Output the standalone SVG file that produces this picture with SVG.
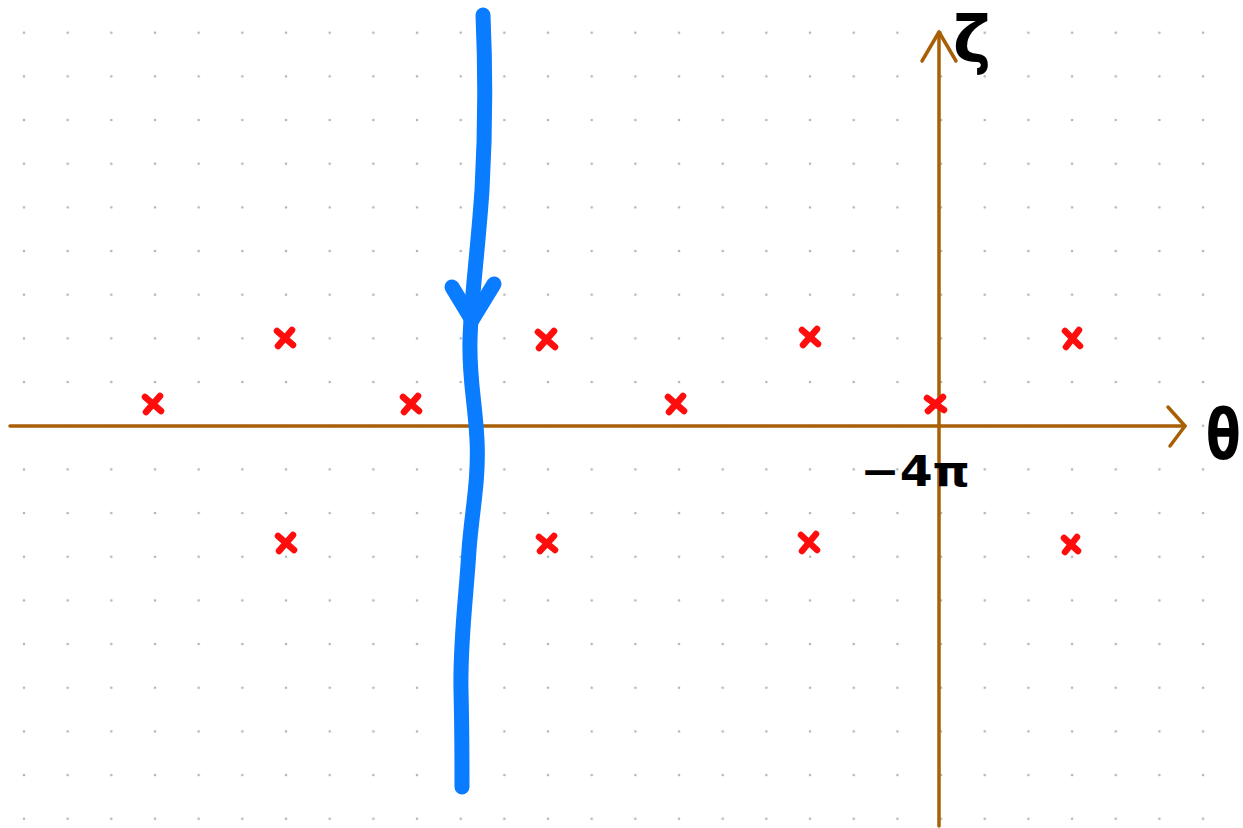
<svg xmlns="http://www.w3.org/2000/svg" width="1243" height="828" viewBox="0 0 1243 828">
<defs>
<pattern id="dots" x="24" y="32.7" width="43.67" height="43.67" patternUnits="userSpaceOnUse">
<circle cx="0" cy="0" r="1.3" fill="#b4b4b4"/>
<circle cx="43.67" cy="0" r="1.3" fill="#b4b4b4"/>
<circle cx="0" cy="43.67" r="1.3" fill="#b4b4b4"/>
<circle cx="43.67" cy="43.67" r="1.3" fill="#b4b4b4"/>
</pattern>
</defs>
<style>
.axis{stroke:#a95f06;stroke-width:3.5;fill:none;stroke-linecap:round;stroke-linejoin:round}
.x{stroke:#ff0d0d;stroke-width:6.5;stroke-linecap:round;fill:none}
.path{stroke:#0a7cff;stroke-width:15;stroke-linecap:round;stroke-linejoin:round;fill:none}
.lbl{font-family:"DejaVu Sans",sans-serif;font-weight:bold;fill:#000}
</style>
<rect width="1243" height="828" fill="#fff"/>
<rect x="0" y="0" width="1243" height="828" fill="url(#dots)"/>
<g id="connectors">
<g id="theta-axis">
<path class="axis" d="M10,426 L1185,426"/>
<path class="axis" d="M1168,407 L1185,426 L1170,446"/>
</g>
<g id="zeta-axis">
<path class="axis" d="M939,826 L939,32"/>
<path class="axis" d="M922,61 L939,32 L956,61"/>
</g>
<g id="contour">
<path class="path" d="M483,15 C485,60 486,120 482,190 C478,250 471,300 470,340 C469,380 475,400 477,440 C479,480 472,510 469,550 C466,600 460,640 461,690 C462,730 462,760 462,787"/>
<path class="path" d="M452,287 L472,320 L494,284"/>
</g>
</g>
<g id="poles">
<g id="p1"><path class="x" d="M277,331 L293,345 M292,330 L278,346"/></g>
<g id="p2"><path class="x" d="M538,332 L555,347 M554,331 L539,348"/></g>
<g id="p3"><path class="x" d="M802,330 L818,344 M817,329 L803,345"/></g>
<g id="p4"><path class="x" d="M1065,331 L1080,346 M1079,330 L1066,347"/></g>
<g id="p5"><path class="x" d="M145,397 L161,411 M160,396 L146,412"/></g>
<g id="p6"><path class="x" d="M403,397 L419,411 M418,396 L404,412"/></g>
<g id="p7"><path class="x" d="M668,397 L684,411 M683,396 L669,412"/></g>
<g id="p8"><path class="x" d="M927,398 L944,410 M943,397 L928,411"/></g>
<g id="p9"><path class="x" d="M278,536 L294,550 M293,535 L279,551"/></g>
<g id="p10"><path class="x" d="M539,537 L555,550 M554,536 L540,551"/></g>
<g id="p11"><path class="x" d="M801,535 L817,550 M816,534 L802,551"/></g>
<g id="p12"><path class="x" d="M1064,538 L1078,551 M1077,537 L1065,552"/></g>
</g>
<g id="labels">
<text class="lbl" x="953" y="62" font-size="64" textLength="38" lengthAdjust="spacingAndGlyphs">ζ</text>
<text class="lbl" font-size="70" transform="translate(1206,459) scale(0.72,1)">θ</text>
<text class="lbl" x="860" y="486" font-size="42" textLength="110" lengthAdjust="spacingAndGlyphs">−4π</text>
</g>
</svg>
